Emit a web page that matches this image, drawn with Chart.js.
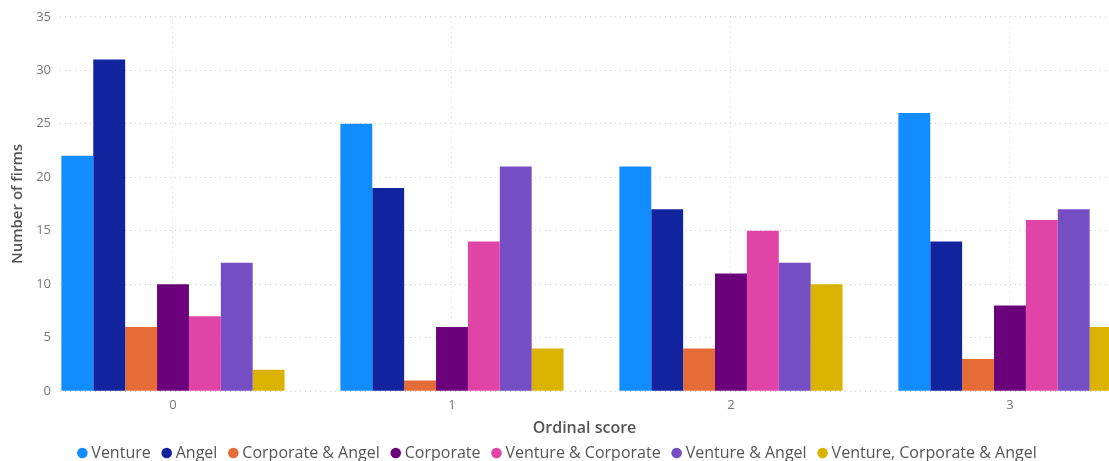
<!DOCTYPE html>
<html>
<head>
<meta charset="utf-8">
<script src="https://cdn.jsdelivr.net/npm/chart.js@4"></script>
<style>
  html, body { margin: 0; padding: 0; background: #fff; overflow: hidden; }
  #wrap { width: 1109px; height: 461px; position: relative; }
</style>
</head>
<body>
<div id="wrap"><canvas id="chart"></canvas></div>
<script>
// chart values
const categories = ['0', '1', '2', '3'];
const venture = [22, 25, 21, 26];
const angel = [31, 19, 17, 14];
const corporateAngel = [6, 1, 4, 3];
const corporate = [10, 6, 11, 8];
const ventureCorporate = [7, 14, 15, 16];
const ventureAngel = [12, 21, 12, 17];
const ventureCorporateAngel = [2, 4, 10, 6];
const yTicks = [0, 5, 10, 15, 20, 25, 30, 35];

const seriesNames = ['Venture', 'Angel', 'Corporate & Angel', 'Corporate',
    'Venture & Corporate', 'Venture & Angel', 'Venture, Corporate & Angel'];
const seriesValues = [venture, angel, corporateAngel, corporate,
    ventureCorporate, ventureAngel, ventureCorporateAngel];
const colors = ['#118DFF', '#12239E', '#E66C37', '#6B007B', '#E044A7', '#744EC2', '#D9B300'];

const fontFamily = '"Open Sans", "Noto Sans", sans-serif';

// one dataset per series, x is the category index
const datasets = seriesNames.map((name, s) => ({
    label: name,
    data: seriesValues[s].map((v, i) => ({ x: i, y: v })),
    backgroundColor: colors[s],
    borderWidth: 0,
    categoryPercentage: 0.8,
    barPercentage: 1.0
}));

new Chart(document.getElementById('chart'), {
    type: 'bar',
    data: { datasets: datasets },
    options: {
        responsive: true,
        maintainAspectRatio: false,
        animation: false,
        // negative bottom so the legend sits as low as in the picture
        layout: { padding: { top: 8, right: 0, left: 9, bottom: -10 } },
        plugins: {
            tooltip: { enabled: false },
            legend: {
                position: 'bottom',
                labels: {
                    usePointStyle: true,
                    pointStyle: 'circle',
                    boxWidth: 2,
                    boxHeight: 7.5,
                    padding: 15,
                    color: '#555',
                    font: { family: fontFamily, size: 16 }
                }
            }
        },
        scales: {
            x: {
                type: 'linear',
                offset: false,
                // picture is cropped on the right, last category runs past the edge
                min: -0.405,
                max: 3.355,
                afterBuildTicks: scale => {
                    scale.ticks = categories.map((c, i) => ({ value: i }));
                },
                ticks: {
                    color: '#777',
                    font: { family: fontFamily, size: 13 },
                    padding: 6,
                    callback: value => categories[value]
                },
                grid: {
                    offset: false,
                    color: '#d6d6d6',
                    drawTicks: false
                },
                border: { display: false, dash: [1, 4] },
                title: {
                    display: true,
                    text: 'Ordinal score',
                    color: '#555',
                    font: { family: fontFamily, size: 16, weight: '600' },
                    padding: { top: 0, bottom: -8 }
                }
            },
            y: {
                min: 0,
                max: 35,
                afterBuildTicks: scale => {
                    scale.ticks = yTicks.map(v => ({ value: v }));
                },
                afterFit: scale => { scale.width = 51; },
                ticks: {
                    color: '#777',
                    font: { family: fontFamily, size: 13 },
                    padding: 9
                },
                grid: {
                    color: '#cfcfcf',
                    drawTicks: false
                },
                border: { display: false, dash: [1, 4] },
                title: {
                    display: true,
                    text: 'Number of firms',
                    color: '#555',
                    font: { family: fontFamily, size: 15, weight: '600' },
                    padding: { top: 0, bottom: 4 }
                }
            }
        }
    }
});
</script>
</body>
</html>
